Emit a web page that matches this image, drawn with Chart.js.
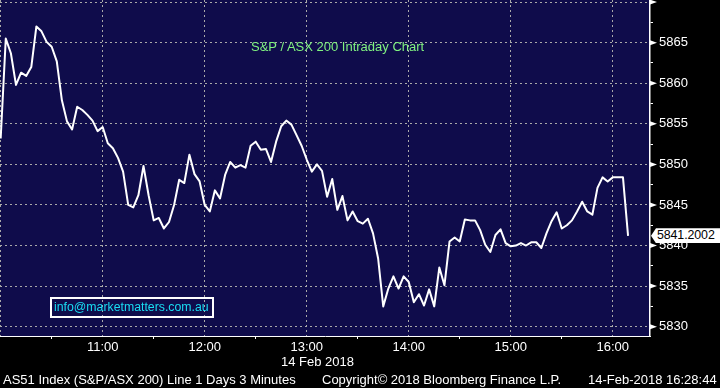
<!DOCTYPE html>
<html>
<head>
<meta charset="utf-8">
<script src="https://cdn.jsdelivr.net/npm/chart.js@4.4.1/dist/chart.umd.min.js"></script>
<style>
    body { margin: 0; background: #000; }
    #wrap { position: relative; width: 720px; height: 388px; overflow: hidden;
            font-family: "Liberation Sans", Arial, sans-serif; }
    #chart { position: absolute; left: 0; top: 0; }
    .t { position: absolute; white-space: nowrap; font-size: 13px; line-height: 15px; color: #fff; }
    #info { left: 50px; top: 297px; width: 158px; height: 17px; border: 2px solid #fff;
            color: #19dcf2; padding: 0 0 0 2px; box-sizing: content-box; line-height: 17px;
            font-size: 12.3px; }
    #last { left: 651px; width: 63px; height: 15px; background: #fff; color: #000;
            padding-left: 6px; font-size: 12.4px; letter-spacing: -0.1px;
            clip-path: polygon(0 50%, 5px 0, 100% 0, 100% 100%, 5px 100%); }
</style>
</head>
<body>
<div id="wrap">
    <canvas id="chart" width="720" height="388"></canvas>
    <div class="t" style="left:251px;top:39px;color:#80f280">S&amp;P / ASX 200 Intraday Chart</div>
    <div class="t" id="info">info@marketmatters.com.au</div>
    <div class="t" style="left:281px;top:354px">14 Feb 2018</div>
    <div class="t" style="left:3px;top:372px">AS51 Index (S&amp;P/ASX 200) Line 1 Days 3 Minutes</div>
    <div class="t" style="left:322px;top:372px">Copyright© 2018 Bloomberg Finance L.P.</div>
    <div class="t" style="left:588px;top:372px">14-Feb-2018 16:28:44</div>
    <div class="t" id="last"></div>
</div>
<script>
// 3 minute bars from the 10:00 open
const barMinutes = 3;
const closes = [
    5853.2, 5865.5, 5863.7, 5859.8, 5861.3, 5860.9, 5862.0, 5867.0, 5866.4, 5865.1,
    5864.5, 5862.7, 5857.9, 5855.3, 5854.3, 5857.1, 5856.7, 5856.1, 5855.4, 5854.1,
    5854.6, 5852.6, 5852.0, 5850.8, 5849.1, 5845.0, 5844.7, 5846.2, 5849.8, 5846.2,
    5843.1, 5843.4, 5842.1, 5842.9, 5845.0, 5848.1, 5847.7, 5851.2, 5848.8, 5847.9,
    5845.0, 5844.2, 5846.8, 5845.8, 5848.7, 5850.3, 5849.6, 5849.9, 5849.6, 5852.3,
    5852.8, 5851.8, 5851.9, 5850.3, 5852.8, 5854.7, 5855.4, 5854.9, 5853.6, 5852.3,
    5850.6, 5849.1, 5850.0, 5849.2, 5846.0, 5848.2, 5844.4, 5846.1, 5843.1, 5844.2,
    5843.0, 5842.7, 5843.3, 5841.5, 5838.4, 5832.5, 5834.7, 5836.2, 5834.7, 5836.2,
    5835.5, 5833.0, 5834.0, 5832.6, 5834.6, 5832.5, 5837.3, 5835.1, 5840.5, 5841.0,
    5840.5, 5843.2, 5843.1, 5843.1, 5841.9, 5840.1, 5839.2, 5841.3, 5842.0, 5840.3,
    5839.9, 5840.0, 5840.3, 5840.0, 5840.4, 5840.4, 5839.7, 5841.5, 5843.0, 5844.1,
    5842.1, 5842.5, 5843.1, 5844.2, 5845.4, 5844.2, 5843.8, 5847.1, 5848.4, 5847.9,
    5848.4, 5848.4, 5848.4, 5841.2002
];
const hourLabels = ["10:00", "11:00", "12:00", "13:00", "14:00", "15:00", "16:00"];
const priceTicks = [5830, 5835, 5840, 5845, 5850, 5855, 5860, 5865, 5870];

const navy = "#0f0c4b";
const gridGrey = "#a9a9a9";
const none = "rgba(0,0,0,0)";

// keep the plot area flush with the canvas edges
function noPadding(s) {
    s.paddingTop = 0;
    s.paddingBottom = 0;
    s.paddingLeft = 0;
    s.paddingRight = 0;
}

function main() {
    let points = closes.map((v, i) => ({ x: i * barMinutes, y: v }));

    // half-hour ticks on time axis, half-step ticks on price axis
    let timeTicks = [];
    for (let m = 0; m <= (hourLabels.length - 1) * 60; m += 30) timeTicks.push(m);
    let priceMinor = [];
    for (let p = priceTicks[0]; p <= priceTicks[priceTicks.length - 1]; p += 2.5) priceMinor.push(p);

    let background = {
        id: "background",
        beforeDraw(chart) {
            let { ctx, chartArea: a } = chart;
            ctx.save();
            ctx.fillStyle = "#000";
            ctx.fillRect(0, 0, chart.width, chart.height);
            ctx.fillStyle = navy;
            ctx.fillRect(a.left, a.top, a.right - a.left, a.bottom - a.top);
            ctx.restore();
        }
    };

    // arrow heads on the price axis and the last price tag
    let markers = {
        id: "markers",
        afterDraw(chart) {
            let { ctx, chartArea: a } = chart;
            let y = chart.scales.y;
            ctx.save();
            ctx.fillStyle = "#fff";
            priceTicks.forEach(p => {
                let py = y.getPixelForValue(p);
                if (py < a.top - 3 || py > a.bottom) return;
                ctx.beginPath();
                ctx.moveTo(a.right, py - 2.5);
                ctx.lineTo(a.right + 7, py);
                ctx.lineTo(a.right, py + 2.5);
                ctx.closePath();
                ctx.fill();
            });
            ctx.restore();

            let lastValue = closes[closes.length - 1];
            let tag = document.getElementById("last");
            tag.innerText = lastValue.toFixed(4);
            tag.style.top = (y.getPixelForValue(lastValue) - 7.5) + "px";
        }
    };

    new Chart(document.getElementById("chart"), {
        type: "line",
        data: {
            datasets: [{
                data: points,
                borderColor: "#ffffff",
                borderWidth: 2,
                pointRadius: 0,
                tension: 0,
                borderJoinStyle: "round"
            }]
        },
        options: {
            responsive: false,
            devicePixelRatio: 1,
            animation: false,
            layout: { padding: 0, autoPadding: false },
            plugins: { legend: { display: false }, tooltip: { enabled: false } },
            scales: {
                x: {
                    type: "linear",
                    min: -0.4,
                    max: 381.9,
                    afterFit: s => { s.height = 52; noPadding(s); },
                    afterBuildTicks: s => { s.ticks = timeTicks.map(v => ({ value: v })); },
                    grid: {
                        color: c => (c.tick && c.tick.value % 60 === 0 ? gridGrey : none),
                        tickColor: c => (c.tick && c.tick.value % 60 === 0 ? none : "#fff"),
                        tickLength: 3,
                        lineWidth: 1
                    },
                    border: { display: true, color: "#fff", width: 1, dash: [2, 3] },
                    ticks: {
                        autoSkip: false,
                        maxRotation: 0,
                        padding: 1,
                        color: "#ffffff",
                        font: { family: "Liberation Sans", size: 13 },
                        callback: v => (v % 60 === 0 && v > 0 ? hourLabels[v / 60] : "")
                    }
                },
                y: {
                    position: "right",
                    min: 5828.85,
                    max: 5870.26,
                    afterFit: s => { s.width = 70; noPadding(s); },
                    afterBuildTicks: s => { s.ticks = priceMinor.map(v => ({ value: v })); },
                    grid: {
                        color: c => (c.tick && c.tick.value % 5 === 0 ? gridGrey : none),
                        tickColor: c => (c.tick && c.tick.value % 5 === 0 ? none : "#fff"),
                        tickLength: 3,
                        lineWidth: 1
                    },
                    border: { display: true, color: "#fff", width: 1.5, dash: [2, 3] },
                    ticks: {
                        autoSkip: false,
                        padding: 6,
                        color: "#ffffff",
                        font: { family: "Liberation Sans", size: 13 },
                        callback: v => (v % 5 === 0 && v < 5870 ? String(v) : "")
                    }
                }
            }
        },
        plugins: [background, markers]
    });
}

document.addEventListener("DOMContentLoaded", main);
</script>
</body>
</html>
